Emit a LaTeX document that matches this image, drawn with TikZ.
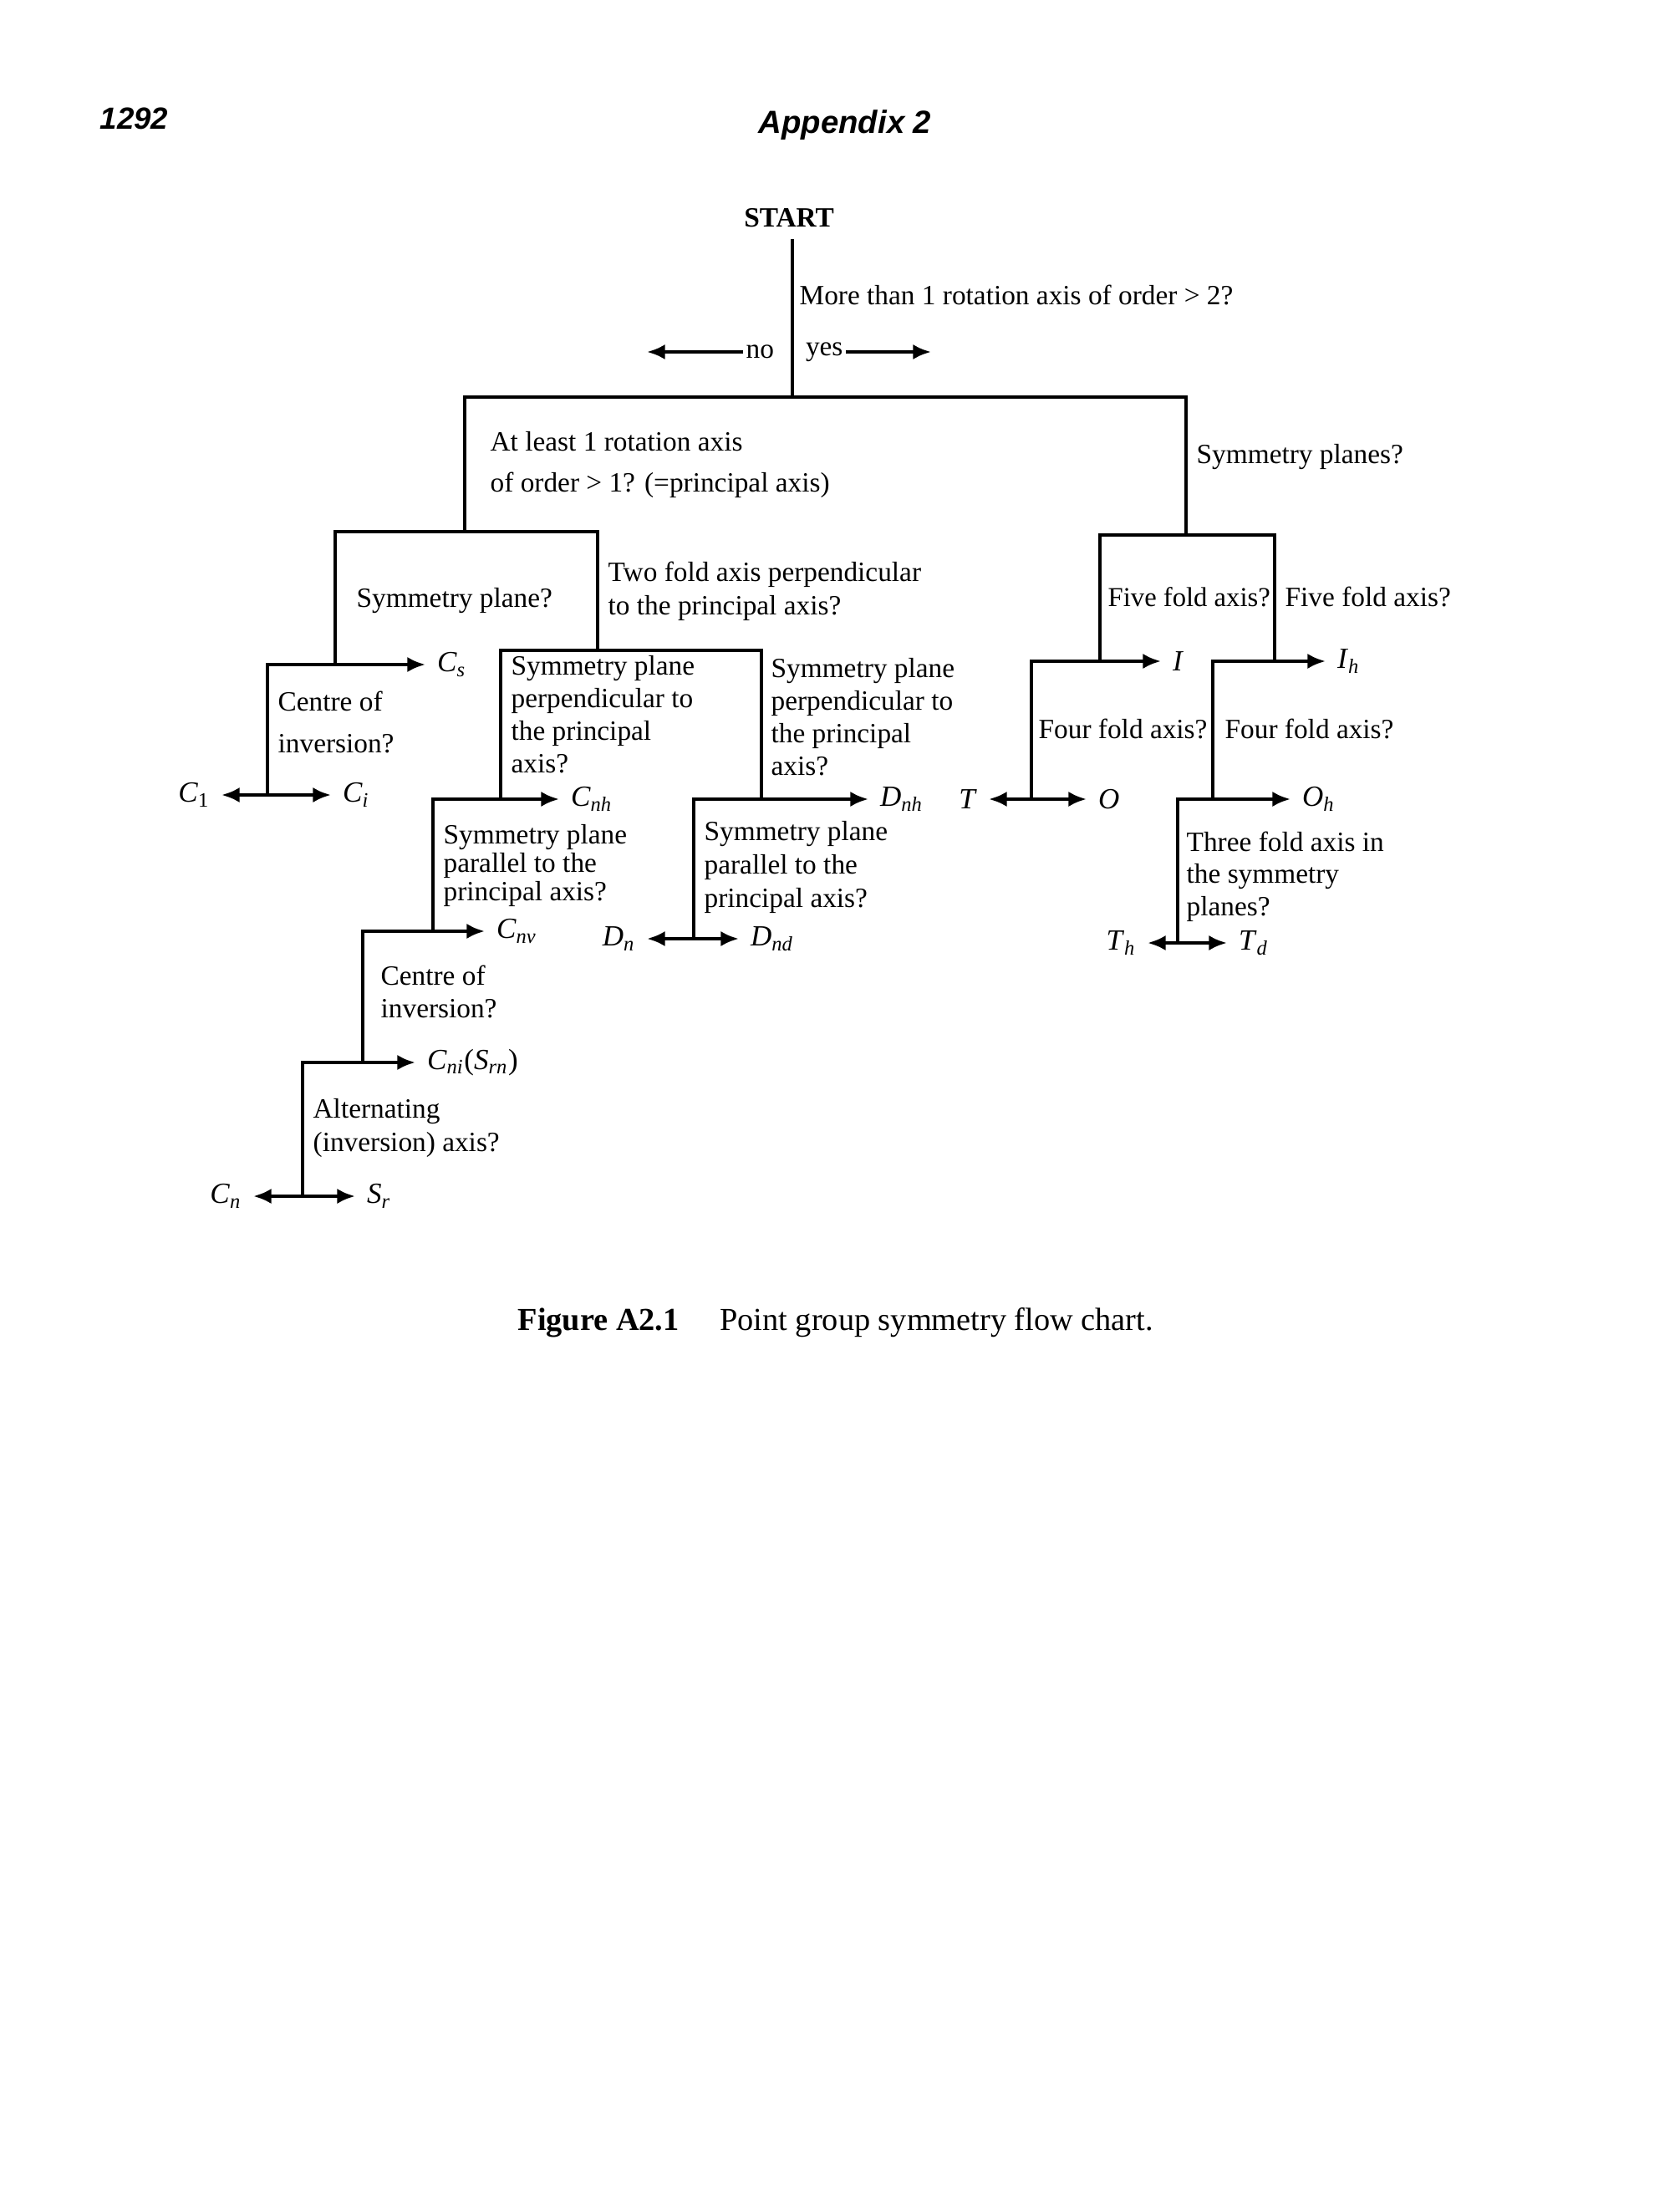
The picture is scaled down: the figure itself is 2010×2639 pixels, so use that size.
\documentclass[tikz,border=0pt]{standalone}
\usepackage{fontspec}
\setmainfont{Liberation Serif}
\newfontfamily\hdrfont{Liberation Sans}
\usetikzlibrary{arrows.meta}
\newcommand{\grp}[2]{\textit{#1}\textsubscript{\textit{#2}}}
\begin{document}
\begin{tikzpicture}[x=0.3pt,y=-0.3pt,
  ln/.style={line width=1.4pt},
  ar/.style={line width=1.4pt,-{Latex[length=6.5pt,width=5.5pt]}},
  dar/.style={line width=1.4pt,{Latex[length=6.5pt,width=5.5pt]}-{Latex[length=6.5pt,width=5.5pt]}},
  q/.style={font=\fontsize{10}{12}\selectfont,inner sep=0pt,align=left,anchor=north west},
  ql/.style={font=\fontsize{10}{12}\selectfont,inner sep=0pt,anchor=west},
  g/.style={font=\fontsize{10.5}{12}\selectfont,inner sep=0pt,inner xsep=4pt},
]
\useasboundingbox[fill=white] (0,0) rectangle (2010,2639);

% headers
\node[anchor=west,inner sep=0pt,font=\hdrfont\bfseries\itshape\fontsize{11}{13}\selectfont] (pg) at (119,142) {1292};
\node[inner sep=0pt,font=\hdrfont\bfseries\itshape\fontsize{11.5}{13}\selectfont] (app) at (1011,150) {Appendix 2};

% start
\node[inner sep=0pt,font=\bfseries\fontsize{10}{12}\selectfont] (start) at (944,261) {START};
\coordinate (j0) at (948,475);
\draw[line width=1pt] (948,286) -- (j0);
\node[ql] (more) at (956,353) {More than 1 rotation axis of order > 2?};
\node[ql,inner xsep=1pt,anchor=east] (no) at (930,421) {no};
\node[ql,inner xsep=1pt] (yes) at (960,421) {yes};
\coordinate (noend) at (774,421);
\coordinate (yesend) at (1114,421);
\draw[ar] (no) -- (noend);
\draw[ar] (yes) -- (yesend);

% level 1
\coordinate (L1) at (556,636);
\coordinate (R1) at (1419,640);
\draw[ln] (L1) -- (L1|-j0) -- (R1|-j0) -- (R1);
\node[q,font=\fontsize{10}{14.7}\selectfont] (atleast) at (586,516) {At least 1 rotation axis\\of order > 1? (=principal axis)};
\node[ql] (symplanes) at (1431,547) {Symmetry planes?};

% left subtree
\coordinate (a1) at (401,795);
\coordinate (a2) at (715,778);
\draw[ln] (a1) -- (a1|-L1) -- (a2|-L1) -- (a2);
\node[ql] (symplane) at (426,719) {Symmetry plane?};
\node[q,font=\fontsize{10}{12}\selectfont] (twofold) at (727,671) {Two fold axis perpendicular\\to the principal axis?};

% Cs branch
\node[g,anchor=west] (Cs) at (509,795) {\grp{C}{s}};
\coordinate (b1) at (320,951);
\draw[ar] (b1) -- (b1|-a1) -- (Cs);
\node[q,font=\fontsize{10}{15}\selectfont] (centre1) at (332,826) {Centre of\\inversion?};
\node[g,anchor=east] (C1) at (265,951) {\textit{C}\textsubscript{1}};
\node[g,anchor=west] (Ci) at (396,951) {\grp{C}{i}};
\draw[dar] (C1) -- (Ci);

% two-fold branch
\coordinate (c1) at (599,956);
\coordinate (c2) at (911,956);
\draw[ln] (c1) -- (c1|-a2) -- (c2|-a2) -- (c2);
\node[q,font=\fontsize{10}{11.7}\selectfont] (perpL) at (611,784) {Symmetry plane\\perpendicular to\\the principal\\axis?};
\node[q,font=\fontsize{10}{11.7}\selectfont] (perpR) at (922,787) {Symmetry plane\\perpendicular to\\the principal\\axis?};

\node[g,anchor=west] (Cnh) at (669,956) {\grp{C}{nh}};
\coordinate (d1) at (518,1114);
\draw[ar] (d1) -- (d1|-c1) -- (Cnh);
\node[g,anchor=west] (Dnh) at (1039,956) {\grp{D}{nh}};
\coordinate (d2) at (830,1123);
\draw[ar] (d2) -- (d2|-c2) -- (Dnh);

\node[q,font=\fontsize{10}{10.1}\selectfont] (parL) at (530,986) {Symmetry plane\\parallel to the\\principal axis?};
\node[q,font=\fontsize{10}{11.9}\selectfont] (parR) at (842,982) {Symmetry plane\\parallel to the\\principal axis?};

\node[g,anchor=west] (Cnv) at (580,1114) {\grp{C}{nv}};
\coordinate (e1) at (434,1271);
\draw[ar] (e1) -- (e1|-d1) -- (Cnv);
\node[g,anchor=east] (Dn) at (774,1123) {\grp{D}{n}};
\node[g,anchor=west] (Dnd) at (884,1123) {\grp{D}{nd}};
\draw[dar] (Dn) -- (Dnd);

\node[q,font=\fontsize{10}{11.7}\selectfont] (centre2) at (455,1154) {Centre of\\inversion?};
\node[g,anchor=west] (Cni) at (497,1271) {\grp{C}{ni}(\grp{S}{rn})};
\coordinate (f1) at (362,1431);
\draw[ar] (f1) -- (f1|-e1) -- (Cni);

\node[q,font=\fontsize{10}{12}\selectfont] (alt) at (374,1314) {Alternating\\(inversion) axis?};
\node[g,anchor=east] (Cn) at (303,1431) {\grp{C}{n}};
\node[g,anchor=west] (Sr) at (425,1431) {\grp{S}{r}};
\draw[dar] (Cn) -- (Sr);

% right subtree
\coordinate (h1) at (1316,791);
\coordinate (h2) at (1525,791);
\draw[ln] (h1) -- (h1|-R1) -- (h2|-R1) -- (h2);
\node[ql,font=\fontsize{9.8}{12}\selectfont] (fiveL) at (1325,714) {Five fold axis?};
\node[ql] (fiveR) at (1537,714) {Five fold axis?};

\node[g,anchor=west] (I) at (1389,791) {\textit{I}};
\coordinate (k1) at (1234,956);
\draw[ar] (k1) -- (k1|-h1) -- (I);
\node[g,anchor=west] (Ih) at (1586,791) {\grp{I}{h}};
\coordinate (k2) at (1451,956);
\draw[ar] (k2) -- (k2|-h2) -- (Ih);

\node[ql] (fourL) at (1242,872) {Four fold axis?};
\node[ql] (fourR) at (1465,872) {Four fold axis?};

\node[g,anchor=east] (T) at (1183,956) {\textit{T}};
\node[g,anchor=west] (O) at (1300,956) {\textit{O}};
\draw[dar] (T) -- (O);

\node[g,anchor=west] (Oh) at (1544,956) {\grp{O}{h}};
\coordinate (m1) at (1409,1128);
\draw[ar] (m1) -- (m1|-k2) -- (Oh);

\node[q,font=\fontsize{10}{11.6}\selectfont] (three) at (1419,994) {Three fold axis in\\the symmetry\\planes?};
\node[g,anchor=east] (Th) at (1373,1128) {\grp{T}{h}};
\node[g,anchor=west] (Td) at (1468,1128) {\grp{T}{d}};
\draw[dar] (Th) -- (Td);

% caption
\node[anchor=west,inner sep=0pt,font=\fontsize{11.5}{13}\selectfont] (cap) at (619,1582) {\textbf{Figure A2.1}\hspace{14.6pt}Point group symmetry flow chart.};
\end{tikzpicture}
\end{document}
